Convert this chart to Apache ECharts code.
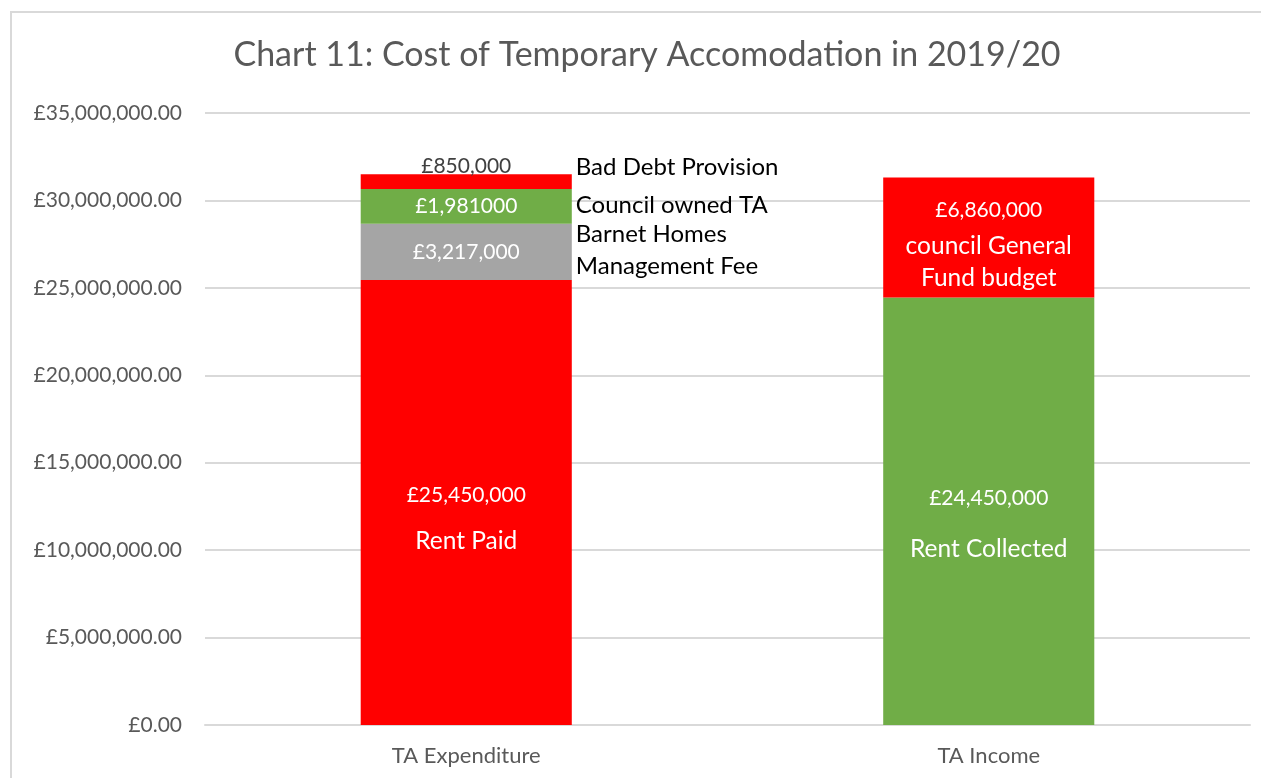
<!DOCTYPE html>
<html>
<head>
<meta charset="utf-8">
<script src="https://cdn.jsdelivr.net/npm/echarts@6/dist/echarts.min.js"></script>
<style>
html,body{margin:0;padding:0;overflow:hidden;background:#fff;}
#frame{position:absolute;left:10px;top:11px;width:1290px;height:800px;border:2px solid #d9d9d9;box-sizing:border-box;}
#chart{position:absolute;left:0;top:0;width:1261px;height:778px;}
</style>
</head>
<body>
<div id="frame"></div>
<div id="chart"></div>
<script>
// ---- data ----
const categories = ['TA Expenditure', 'TA Income'];
const baseValues = [25450000, 24450000];        // Rent Paid / Rent Collected
const middleValues = [3217000, 6860000];        // Barnet Homes Management Fee / council General Fund budget
const councilOwnedValues = [1981000, null];     // Council owned TA
const badDebtValues = [850000, null];           // Bad Debt Provision
const baseAmounts = ['£25,450,000', '£24,450,000'];
const baseNames = ['Rent Paid', 'Rent Collected'];
const middleAmounts = ['£3,217,000', '£6,860,000'];
const middleNames = ['', 'council General\nFund budget'];
const councilOwnedLabels = ['£1,981000', ''];
const badDebtLabels = ['£850,000', ''];
const sideNotes = ['', 'Barnet Homes\nManagement Fee', 'Council owned TA', 'Bad Debt Provision'];
const baseColors = ['#FF0000', '#70AD47'];
const middleColors = ['#A5A5A5', '#FF0000'];

const FONT = 'Lato, "Open Sans", sans-serif';
const chart = echarts.init(document.getElementById('chart'));

function inside(text, extra) {
  return Object.assign({
    show: text !== '', position: 'inside', color: '#fff', fontSize: 21,
    fontFamily: FONT, formatter: text
  }, extra || {});
}

function richLabel(amount, name, gapAmount, gapName, off) {
  const text = name ? '{a|' + amount + '}\n' + name.split('\n').map(s => '{n|' + s + '}').join('\n') : '{a|' + amount + '}';
  return inside(text, {
    offset: off,
    rich: {
      a: { color: '#fff', fontSize: 21, fontFamily: FONT, lineHeight: gapAmount },
      n: { color: '#fff', fontSize: 24.5, fontFamily: FONT, lineHeight: gapName }
    }
  });
}

const baseData = baseValues.map((v, i) => ({
  value: v,
  itemStyle: { color: baseColors[i] },
  label: richLabel(baseAmounts[i], baseNames[i], i === 0 ? 46 : 51, i === 0 ? 46 : 51, [0, i === 0 ? 16 : 12])
}));
const middleData = middleValues.map((v, i) => ({
  value: v,
  itemStyle: { color: middleColors[i] },
  label: richLabel(middleAmounts[i], middleNames[i], i === 0 ? 24 : 40, 32, [0, i === 0 ? 0 : 5])
}));
const councilData = councilOwnedValues.map((v, i) => ({
  value: v, itemStyle: { color: '#70AD47' }, label: inside(councilOwnedLabels[i])
}));
const badDebtData = badDebtValues.map((v, i) => ({
  value: v, itemStyle: { color: '#FF0000' },
  label: inside(badDebtLabels[i], { color: '#404040', offset: [0, -15] })
}));

const noteSeriesValues = [
  [baseValues[0], null],
  [middleValues[0], null],
  [councilOwnedValues[0], null],
  [badDebtValues[0], null]
];
const noteOffsets = [[0, 0], [0, -2], [0, -1], [0, -14]];
const noteSeries = noteSeriesValues.map((vals, k) => ({
  type: 'bar', stack: 'notes', barGap: '-100%', barWidth: '40.4%',
  silent: true,
  itemStyle: { color: 'rgba(0,0,0,0)' },
  label: {
    show: sideNotes[k] !== '', position: 'right', distance: 4, offset: noteOffsets[k],
    color: '#000', fontSize: 24, fontFamily: FONT, lineHeight: 32, align: 'left',
    formatter: sideNotes[k]
  },
  data: vals,
  z: 5
}));

const option = {
  animation: false,
  title: {
    text: 'Chart 11: Cost of Temporary Accomodation in 2019/20',
    left: 642, top: 33, textAlign: 'center',
    textStyle: { color: '#595959', fontSize: 34, fontWeight: 'normal', fontFamily: FONT }
  },
  grid: { left: 205, right: 11, top: 113, bottom: 53 },
  xAxis: {
    type: 'category', data: categories,
    axisLine: { lineStyle: { color: '#D9D9D9', width: 2 } },
    axisTick: { show: false },
    axisLabel: { color: '#595959', fontSize: 22, fontFamily: FONT, margin: 20 }
  },
  yAxis: {
    type: 'value', min: 0, max: 35000000, interval: 5000000,
    axisLine: { show: false }, axisTick: { show: false },
    splitLine: { lineStyle: { color: '#D9D9D9', width: 2 } },
    axisLabel: {
      color: '#595959', fontSize: 21, fontFamily: FONT, margin: 23,
      formatter: v => '£' + v.toLocaleString('en-GB', { minimumFractionDigits: 2, maximumFractionDigits: 2 })
    }
  },
  series: [
    { type: 'bar', stack: 'main', barWidth: '40.4%', data: baseData },
    { type: 'bar', stack: 'main', data: middleData },
    { type: 'bar', stack: 'main', data: councilData },
    { type: 'bar', stack: 'main', data: badDebtData }
  ].concat(noteSeries)
};
chart.setOption(option);
</script>
</body>
</html>
